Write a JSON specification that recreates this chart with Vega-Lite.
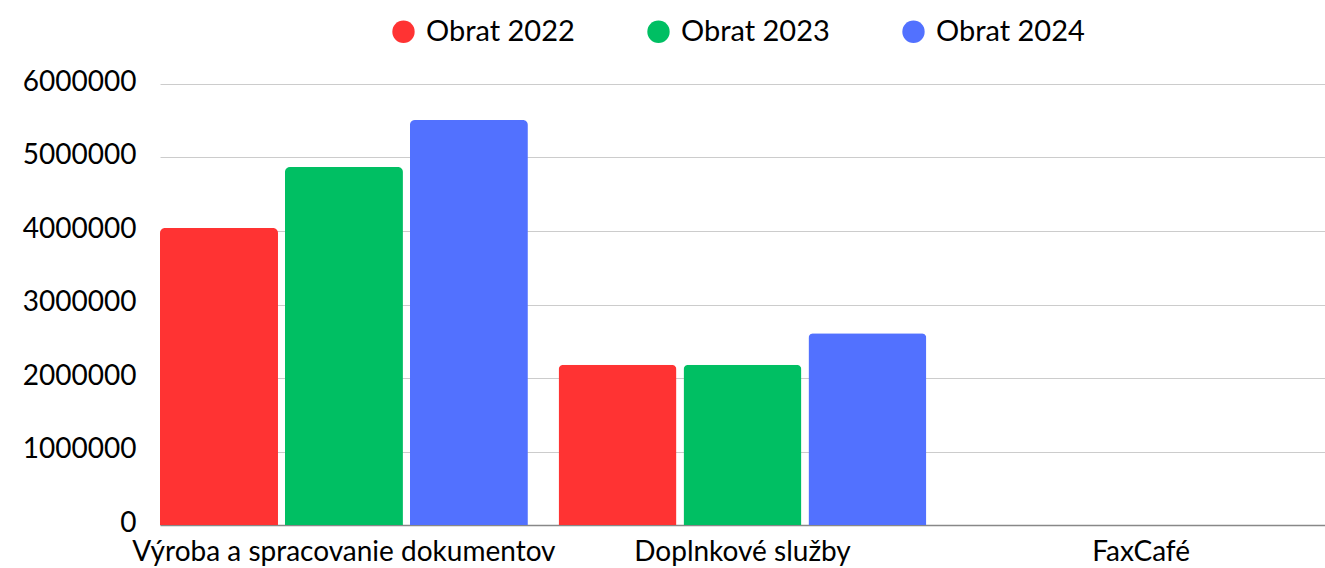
{
  "$schema": "https://vega.github.io/schema/vega-lite/v6.json",
  "width": 1165,
  "height": 441,
  "autosize": {"type": "none"},
  "padding": {"left": 160, "top": 84, "right": 0, "bottom": 43},
  "background": "white",
  "config": {
    "font": "Lato",
    "view": {"stroke": null},
    "axis": {"labelFont": "Lato", "labelColor": "#000000"}
  },
  "data": {
    "values": [
      {"kategoria": "Výroba a spracovanie dokumentov", "rok": "Obrat 2022", "obrat": 4040000},
      {"kategoria": "Výroba a spracovanie dokumentov", "rok": "Obrat 2023", "obrat": 4870000},
      {"kategoria": "Výroba a spracovanie dokumentov", "rok": "Obrat 2024", "obrat": 5510000},
      {"kategoria": "Doplnkové služby", "rok": "Obrat 2022", "obrat": 2180000},
      {"kategoria": "Doplnkové služby", "rok": "Obrat 2023", "obrat": 2180000},
      {"kategoria": "Doplnkové služby", "rok": "Obrat 2024", "obrat": 2610000},
      {"kategoria": "FaxCafé", "rok": "Obrat 2022", "obrat": 0},
      {"kategoria": "FaxCafé", "rok": "Obrat 2023", "obrat": 0},
      {"kategoria": "FaxCafé", "rok": "Obrat 2024", "obrat": 0}
    ]
  },
  "mark": {"type": "bar", "cornerRadiusTopLeft": 5, "cornerRadiusTopRight": 5},
  "encoding": {
    "x": {
      "field": "kategoria",
      "type": "nominal",
      "sort": null,
      "scale": {"paddingInner": 0.077, "paddingOuter": 0},
      "axis": {
        "title": null,
        "labelAngle": 0,
        "labelFontSize": 28,
        "labelPadding": 13,
        "ticks": false,
        "domainColor": "#888888",
        "domainWidth": 1.5,
        "labelLimit": 0
      }
    },
    "xOffset": {
      "field": "rok",
      "type": "nominal",
      "scale": {"paddingInner": 0.0556, "paddingOuter": 0}
    },
    "y": {
      "field": "obrat",
      "type": "quantitative",
      "scale": {"domain": [0, 6000000], "nice": false},
      "axis": {
        "title": null,
        "values": [0, 1000000, 2000000, 3000000, 4000000, 5000000, 6000000],
        "format": "d",
        "labelFontSize": 28,
        "labelPadding": 24,
        "labelOffset": -2,
        "ticks": false,
        "domain": false,
        "gridColor": "#cccccc",
        "gridWidth": 1
      }
    },
    "color": {
      "field": "rok",
      "type": "nominal",
      "scale": {
        "domain": ["Obrat 2022", "Obrat 2023", "Obrat 2024"],
        "range": ["#FF3333", "#00BF63", "#5271FF"]
      },
      "legend": {
        "title": null,
        "orient": "none",
        "direction": "horizontal",
        "legendX": 229,
        "legendY": -67,
        "symbolType": "circle",
        "symbolSize": 500,
        "symbolStrokeWidth": 0,
        "labelFontSize": 29,
        "labelColor": "#000000",
        "labelOffset": 8,
        "columnPadding": 69,
        "labelLimit": 0
      }
    }
  }
}
